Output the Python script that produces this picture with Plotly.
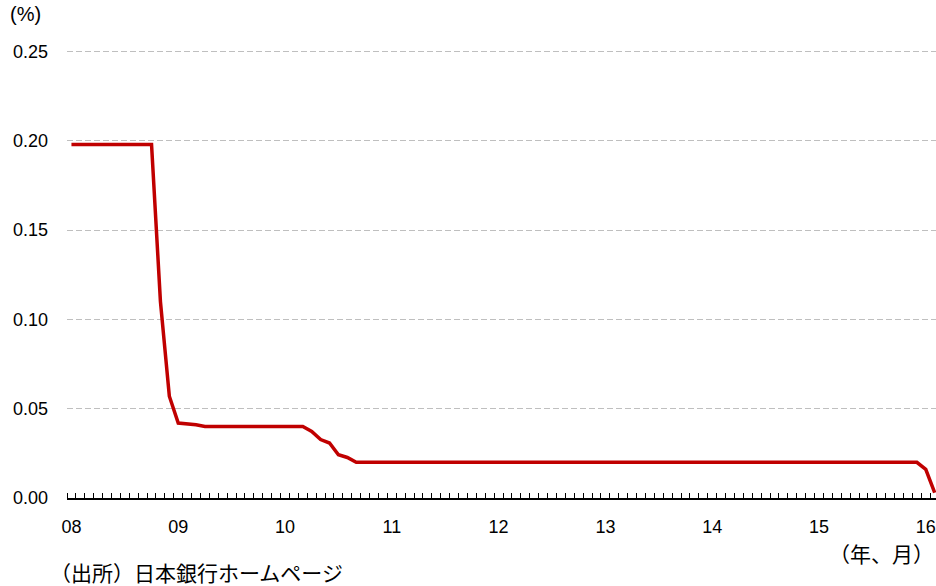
import plotly.graph_objects as go

# Monthly series, Jan 2008 (index 0) onward
year_labels = ["08", "09", "10", "11", "12", "13", "14", "15", "16"]
label_positions = [0, 12, 24, 36, 48, 60, 72, 84, 96]

rate = [
    0.198, 0.198, 0.198, 0.198, 0.198, 0.198, 0.198, 0.198, 0.198, 0.198,  # 2008 Jan-Oct
    0.110, 0.057,                                                          # 2008 Nov-Dec
    0.042, 0.0415, 0.041, 0.040, 0.040, 0.040, 0.040, 0.040, 0.040, 0.040, 0.040, 0.040,  # 2009
    0.040, 0.040, 0.040, 0.0373, 0.0327, 0.0308, 0.0242, 0.0227, 0.020, 0.020, 0.020, 0.020,  # 2010
    0.020, 0.020, 0.020, 0.020, 0.020, 0.020, 0.020, 0.020, 0.020, 0.020, 0.020, 0.020,  # 2011
    0.020, 0.020, 0.020, 0.020, 0.020, 0.020, 0.020, 0.020, 0.020, 0.020, 0.020, 0.020,  # 2012
    0.020, 0.020, 0.020, 0.020, 0.020, 0.020, 0.020, 0.020, 0.020, 0.020, 0.020, 0.020,  # 2013
    0.020, 0.020, 0.020, 0.020, 0.020, 0.020, 0.020, 0.020, 0.020, 0.020, 0.020, 0.020,  # 2014
    0.020, 0.020, 0.020, 0.020, 0.020, 0.020, 0.020, 0.020, 0.020, 0.020, 0.020, 0.020,  # 2015
    0.016, 0.003,                                                          # 2016 Jan-Feb
]
month_index = list(range(len(rate)))

y_ticks = [0.00, 0.05, 0.10, 0.15, 0.20, 0.25]

fig = go.Figure()
fig.add_trace(go.Scatter(
    x=month_index, y=rate, mode="lines",
    line=dict(color="#C00000", width=3.5),
    hoverinfo="skip", showlegend=False,
))

font_lat = "Liberation Sans, Arial, sans-serif"
font_jp = "Noto Sans CJK JP, sans-serif"

fig.update_layout(
    width=936, height=586,
    margin=dict(l=67, r=0, t=48, b=88),
    paper_bgcolor="white", plot_bgcolor="white",
    xaxis=dict(
        range=[-0.5, 97.15],
        tickvals=label_positions, ticktext=year_labels,
        ticks="", showgrid=False, zeroline=False,
        showline=True, linecolor="black", linewidth=1.5,
        tickfont=dict(family=font_lat, size=18, color="black"),
        ticklabelstandoff=12,
        minor=dict(ticks="inside", tick0=-0.5, dtick=1, ticklen=5,
                   tickcolor="black", tickwidth=1, showgrid=False),
    ),
    yaxis=dict(
        range=[0, 0.252], tickvals=y_ticks, tickformat=".2f",
        showgrid=True, gridcolor="#BFBFBF", gridwidth=1, griddash="6px,3px",
        zeroline=False, showline=False, ticks="",
        tickfont=dict(family=font_lat, size=18, color="black"),
        ticklabelstandoff=18,
    ),
    annotations=[
        dict(text="(%)", xref="paper", yref="paper", x=-0.068, y=1.076,
             xanchor="left", yanchor="middle", showarrow=False,
             font=dict(family=font_lat, size=20, color="black")),
        dict(text="（年、月）", xref="paper", yref="paper", x=1.0, y=-0.1225,
             xanchor="right", yanchor="middle", showarrow=False,
             font=dict(family=font_jp, size=21, color="black")),
        dict(text="（出所）日本銀行ホームページ", xref="paper", yref="paper",
             x=-0.022, y=-0.1646, xanchor="left", yanchor="middle", showarrow=False,
             font=dict(family=font_jp, size=21, color="black")),
    ],
)

fig.write_html("out.html")
